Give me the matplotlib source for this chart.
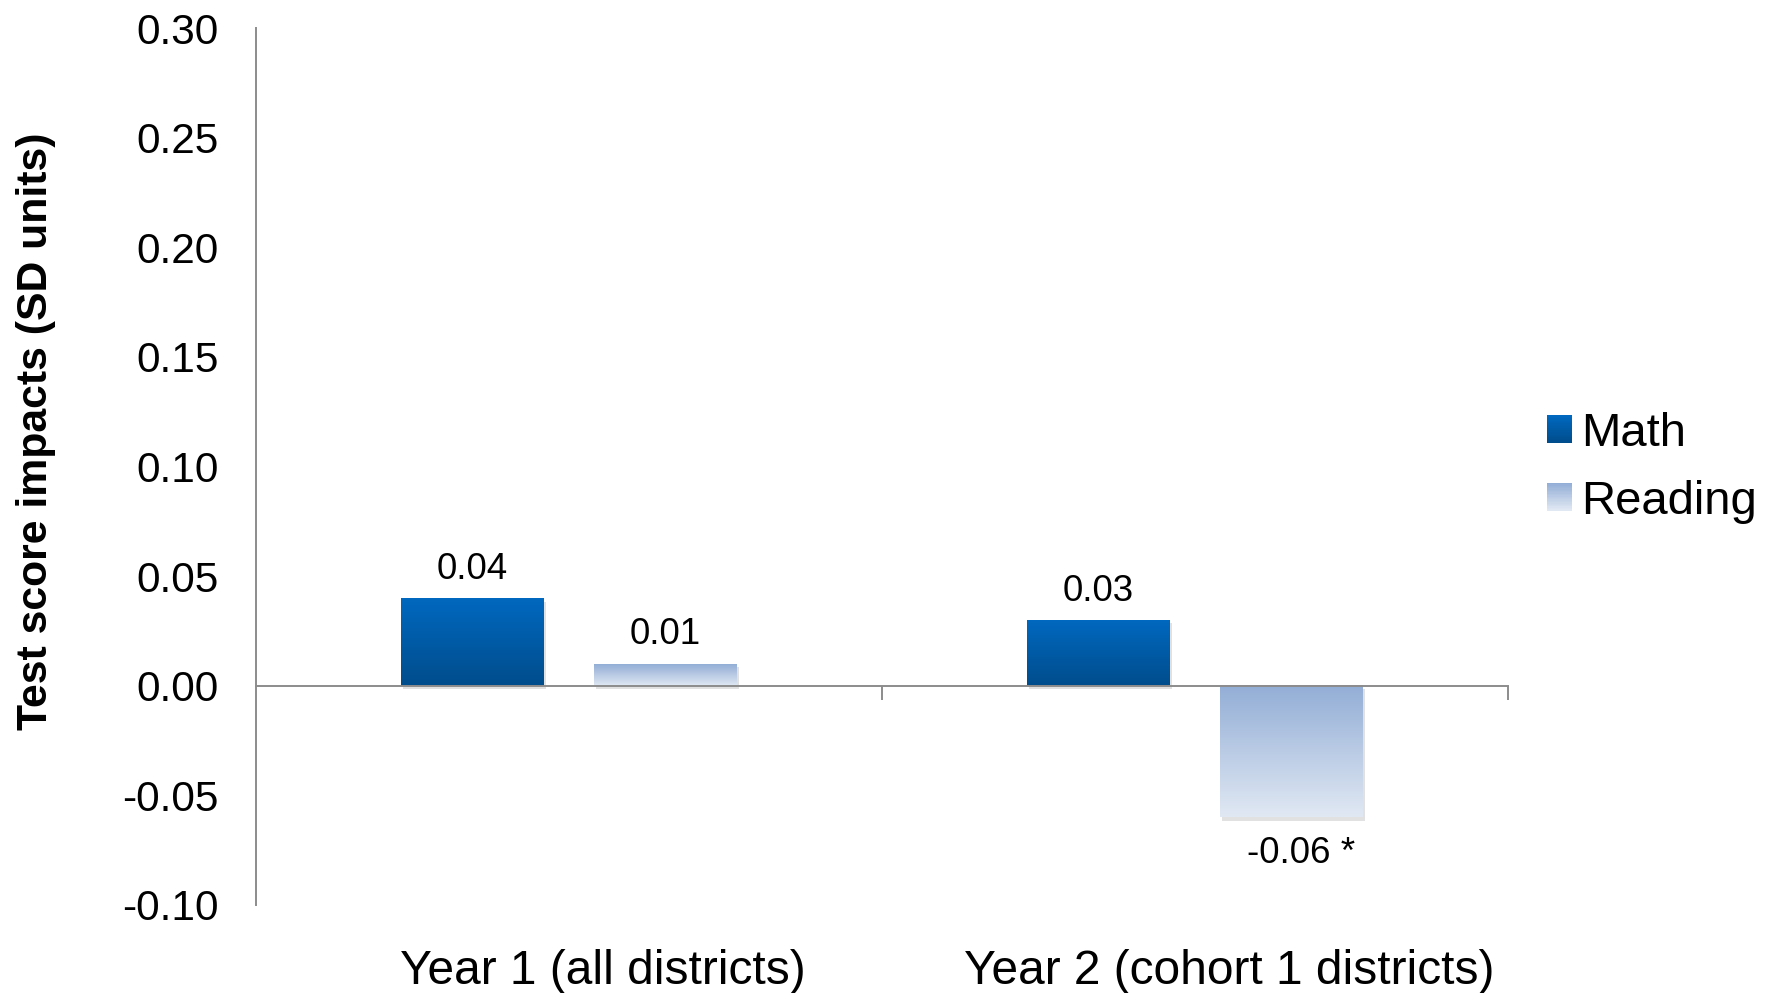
import matplotlib
matplotlib.use('Agg')
import matplotlib.pyplot as plt
import numpy as np
from matplotlib import patheffects
from matplotlib.patches import Rectangle
from matplotlib.legend_handler import HandlerBase
from matplotlib.colors import to_rgb
from matplotlib.transforms import ScaledTranslation

plt.rcParams['font.family'] = ['Liberation Sans', 'DejaVu Sans']

categories = ['Year 1 (all districts)', 'Year 2 (cohort 1 districts)']
series = ['Math', 'Reading']
math_vals = [0.04, 0.03]
reading_vals = [0.01, -0.06]
value_labels = [['0.04', '0.03'], ['0.01', '-0.06 *']]
yticks = [-0.10, -0.05, 0.00, 0.05, 0.10, 0.15, 0.20, 0.25, 0.30]

# top / bottom colours of each series' fill gradient
grad = {
    'Math': ('#0068bf', '#004d8c'),
    'Reading': ('#93aed6', '#e0e8f3'),
}
axis_grey = '#8c8c8c'


def gradient_img(top, bottom, n=64):
    t = np.linspace(0, 1, n)[:, None]
    c0 = np.array(to_rgb(top))
    c1 = np.array(to_rgb(bottom))
    return (c0 * (1 - t) + c1 * t)[:, None, :]


class GradientHandler(HandlerBase):
    def __init__(self, top, bottom):
        super().__init__()
        self.top = top
        self.bottom = bottom

    def create_artists(self, legend, orig_handle, xdescent, ydescent,
                       width, height, fontsize, trans):
        n = 20
        c0 = np.array(to_rgb(self.top))
        c1 = np.array(to_rgb(self.bottom))
        arts = []
        for i in range(n):
            f = i / (n - 1)
            col = c0 * (1 - f) + c1 * f
            y = -ydescent + height * (1 - (i + 1) / n)
            arts.append(Rectangle((-xdescent, y), width, height / n + 0.3,
                                  facecolor=col, edgecolor='none', transform=trans))
        return arts


fig = plt.figure(figsize=(17.73, 9.93), dpi=100)
ax = fig.add_axes([256 / 1773, 1 - 905 / 993, (1508 - 256) / 1773, (905 - 28) / 993])

x = np.arange(len(categories))
w = 0.228
off = 0.154
shadow = [patheffects.SimplePatchShadow(offset=(1.5, -2.5), shadow_rgbFace='#888888', alpha=0.25),
          patheffects.Normal()]

for name, vals, dx, labs in [('Math', math_vals, -off, value_labels[0]),
                             ('Reading', reading_vals, off, value_labels[1])]:
    top, bottom = grad[name]
    bars = ax.bar(x + dx, vals, width=w, color=bottom, zorder=2, path_effects=shadow)
    for b, v, lab in zip(bars, vals, labs):
        bb = b.get_bbox()
        y0, y1 = min(bb.y0, bb.y1), max(bb.y0, bb.y1)
        ax.imshow(gradient_img(top, bottom), extent=[bb.x0, bb.x1, y0, y1],
                  aspect='auto', origin='upper', zorder=3, interpolation='bilinear')
        cx = bb.x0 + (bb.x1 - bb.x0) / 2
        if v >= 0:
            ax.annotate(lab, (cx, v), xytext=(0, 14), textcoords='offset points',
                        ha='center', va='baseline', fontsize=26.5)
        else:
            # the asterisk hangs past the centred number
            ax.annotate(lab, (cx, v), xytext=(7, -33), textcoords='offset points',
                        ha='center', va='baseline', fontsize=26.5)

ax.set_xlim(-0.5, 1.5)
ax.set_ylim(-0.10, 0.30)

# axes lines
for s in ['top', 'right']:
    ax.spines[s].set_visible(False)
ax.spines['left'].set_color(axis_grey)
ax.spines['left'].set_linewidth(1.4)
ax.spines['bottom'].set_position(('data', 0))
ax.spines['bottom'].set_color(axis_grey)
ax.spines['bottom'].set_linewidth(1.4)
ax.spines['bottom'].set_zorder(4)

ax.set_xticks(x, labels=['', ''])
ax.tick_params(axis='x', which='major', length=0)
ax.set_xticks([0.5, 1.5], minor=True)
ax.tick_params(axis='x', which='minor', direction='out', length=10, width=1.4,
               color=axis_grey)

ax.set_yticks(yticks, labels=[f'{t:.2f}' for t in yticks])
ax.tick_params(axis='y', length=0, pad=27, labelsize=30.5)

# category names sit below the plot area, nudged right a little
shift = ScaledTranslation(0.34, -0.44, fig.dpi_scale_trans)
for xi, cat in zip(x, categories):
    ax.text(xi, 0, cat, transform=ax.get_xaxis_transform() + shift,
            ha='center', va='top', fontsize=34.5)

ax.set_ylabel('Test score impacts (SD units)', fontsize=30.8, fontweight='bold')
ax.yaxis.set_label_coords(-0.16, 0.54)

h_math = Rectangle((0, 0), 1, 1)
h_read = Rectangle((0, 0), 1, 1)
fig.legend([h_math, h_read], series, loc='center left',
           bbox_to_anchor=(1547 / 1773, 1 - 468 / 993), frameon=False,
           fontsize=34, handlelength=0.53, handleheight=0.53, handletextpad=0.2,
           labelspacing=0.5, borderpad=0, borderaxespad=0,
           handler_map={h_math: GradientHandler(*grad['Math']),
                        h_read: GradientHandler(*grad['Reading'])})

fig.savefig('out.png', dpi=100)
